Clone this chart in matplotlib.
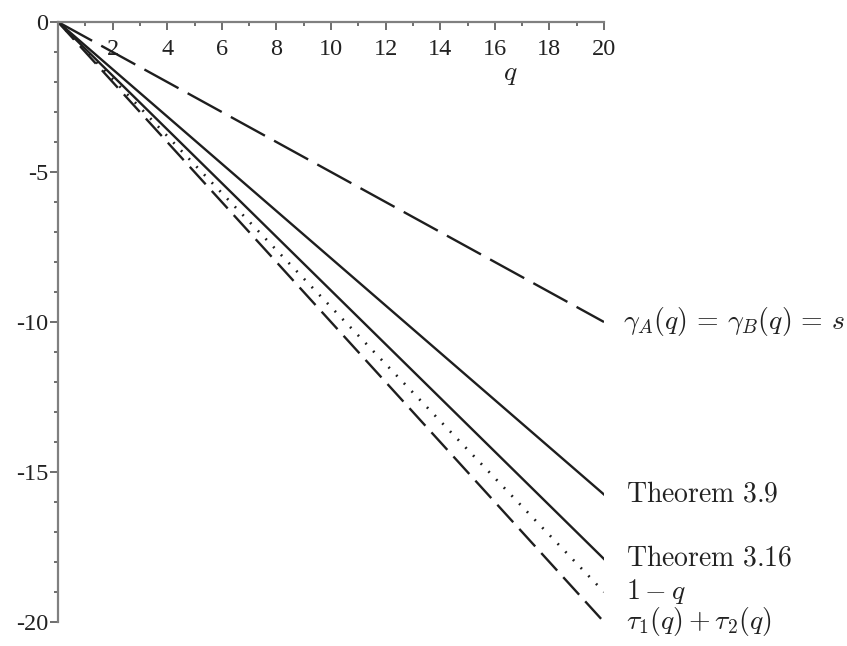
import numpy as np
import matplotlib
matplotlib.use("Agg")
from matplotlib import pyplot as plt
from matplotlib.ticker import MultipleLocator

# data (straight lines through the origin)
q = [0, 20]
gamma_ab = [0, -10.0]
thm_39 = [0, -15.75]
thm_316 = [0, -17.9]
one_minus_q = [0, -19.0]
tau_sum = [0, -20.0]

labels = [r"$\gamma_A(q)\,=\,\gamma_B(q)\,=\,s$",
          r"$\mathrm{Theorem\ 3.9}$",
          r"$\mathrm{Theorem\ 3.16}$",
          r"$1-q$",
          r"$\tau_1(q)+\tau_2(q)$"]

plt.rcParams['mathtext.fontset'] = 'cm'
plt.rcParams['font.family'] = ['Liberation Serif', 'DejaVu Serif']
plt.rcParams['lines.scale_dashes'] = False

fig = plt.figure(figsize=(8.47, 6.46), dpi=100)
ax = fig.add_axes([58/847, 24/646, 546/847, 600/646])

line_col = '#1e1e1e'
ax.plot(q, gamma_ab, color=line_col, lw=1.7, linestyle=(0, (28, 7.5)))
ax.plot(q, thm_39, color=line_col, lw=1.7)
ax.plot(q, thm_316, color=line_col, lw=1.7)
ax.plot(q, one_minus_q, color=line_col, lw=1.9, linestyle=(0, (1.3, 6.7)))
ax.plot(q, tau_sum, color=line_col, lw=1.7, linestyle=(0, (17, 6.5)))

# labels at the right end of each curve
ends = [gamma_ab[-1], thm_39[-1], thm_316[-1], one_minus_q[-1], tau_sum[-1]]
xoff = [20.68, 20.82, 20.82, 20.82, 20.82]
for lab, yv, xv in zip(labels, ends, xoff):
    ax.text(xv, yv, lab, fontsize=20, va='center', ha='left', color='#222222', clip_on=False)

ax.set_xlim(0, 20)
ax.set_ylim(-20, 0)

ax.spines['right'].set_visible(False)
ax.spines['top'].set_visible(False)
ax.spines['bottom'].set_position(('data', 0))
for s in ['left', 'bottom']:
    ax.spines[s].set_color('#808080')
    ax.spines[s].set_linewidth(1.6)

ax.xaxis.set_major_locator(MultipleLocator(2))
ax.xaxis.set_minor_locator(MultipleLocator(1))
ax.yaxis.set_major_locator(MultipleLocator(5))
ax.yaxis.set_minor_locator(MultipleLocator(1))
ax.set_xticks(np.arange(2, 21, 2))
ax.tick_params(axis='both', which='major', length=6, width=1.2, color='#555555',
               labelsize=17.5, labelcolor='#222222')
ax.tick_params(axis='both', which='minor', length=3, width=1.2, color='#555555')
ax.tick_params(axis='x', pad=6)
ax.tick_params(axis='y', pad=1)
ax.set_yticks([0, -5, -10, -15, -20])
ax.set_yticklabels(['0', '-5', '-10', '-15', '-20'])

ax.text(16.55, -1.75, r"$q$", fontsize=20, ha='center', va='center', color='#222222')

fig.savefig("out.png", dpi=100)
